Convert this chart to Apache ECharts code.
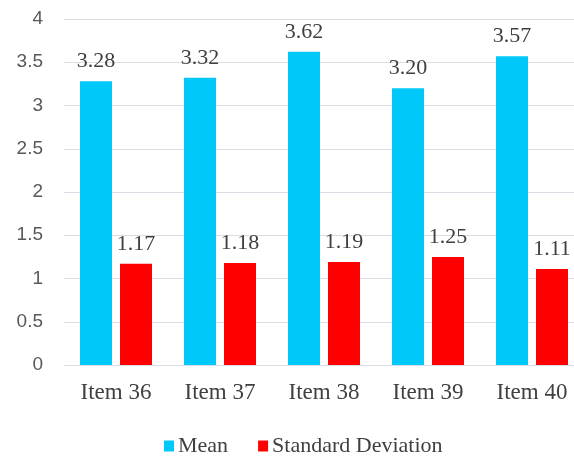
<!DOCTYPE html>
<html>
<head>
<meta charset="utf-8">
<script src="https://cdn.jsdelivr.net/npm/echarts@6/dist/echarts.min.js"></script>
<style>
  html, body { margin: 0; padding: 0; background: #ffffff; }
  #chart { width: 574px; height: 456px; }
</style>
</head>
<body>
<div id="chart"></div>
<script>
// Survey items and their summary statistics
const categories = ['Item 36', 'Item 37', 'Item 38', 'Item 39', 'Item 40'];
const meanValues = [3.28, 3.32, 3.62, 3.20, 3.57];
const sdValues = [1.17, 1.18, 1.19, 1.25, 1.11];
const seriesNames = ['Mean', 'Standard Deviation'];

const serif = '"Liberation Serif", "Times New Roman", serif';
const sans = '"Liberation Sans", Arial, sans-serif';
const textColor = '#404040';
const gridColor = '#d9dee6';

const chart = echarts.init(document.getElementById('chart'), null, { renderer: 'canvas' });

const valueLabel = {
  show: true,
  position: 'top',
  distance: 9,
  fontFamily: serif,
  fontSize: 22,
  color: textColor,
  formatter: p => Number(p.value).toFixed(2)
};

chart.setOption({
  animation: false,
  backgroundColor: '#ffffff',
  // the plot runs a little past the right edge of the canvas
  grid: { left: 64, width: 520, top: 19, bottom: 91, containLabel: false, outerBoundsMode: 'none' },
  legend: {
    data: seriesNames,
    left: 164,
    top: 435,
    padding: 0,
    itemWidth: 10,
    itemHeight: 11,
    itemGap: 30,
    icon: 'rect',
    textStyle: { fontFamily: serif, fontSize: 22, color: textColor, padding: [0, 0, 0, -1] }
  },
  xAxis: {
    type: 'category',
    data: categories,
    axisLine: { show: true, lineStyle: { color: gridColor, width: 1 } },
    axisTick: { show: false },
    axisLabel: { fontFamily: serif, fontSize: 23, color: textColor, margin: 16 }
  },
  yAxis: {
    type: 'value',
    min: 0,
    max: 4,
    interval: 0.5,
    axisLine: { show: false },
    axisTick: { show: false },
    axisLabel: { fontFamily: sans, fontSize: 19, color: '#595959', margin: 21 },
    splitLine: { lineStyle: { color: gridColor, width: 1 } }
  },
  series: [
    {
      name: seriesNames[0],
      type: 'bar',
      data: meanValues,
      barWidth: 32,
      barGap: '25%',
      itemStyle: { color: '#00c8f8' },
      label: valueLabel
    },
    {
      name: seriesNames[1],
      type: 'bar',
      data: sdValues,
      barWidth: 32,
      barGap: '25%',
      itemStyle: { color: '#ff0000' },
      label: valueLabel
    }
  ]
});
</script>
</body>
</html>
